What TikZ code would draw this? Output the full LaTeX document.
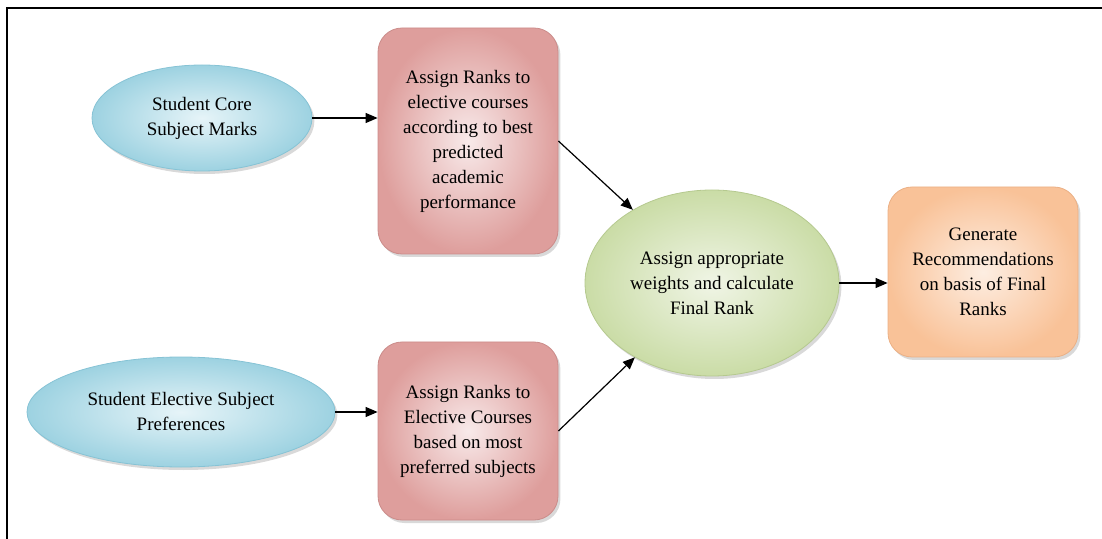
\documentclass[tikz,border=0pt]{standalone}
\usepackage{fontspec}
\setmainfont{Liberation Serif}
\usetikzlibrary{shapes,arrows.meta,positioning,shadows}
\definecolor{aquaout}{HTML}{9DD2E1}
\definecolor{aquain}{HTML}{E6F4F8}
\definecolor{aquaedge}{HTML}{86C3D5}
\definecolor{roseout}{HTML}{DE9E9C}
\definecolor{rosein}{HTML}{F8EAEA}
\definecolor{roseedge}{HTML}{CB8C8A}
\definecolor{sageout}{HTML}{CADCA6}
\definecolor{sagein}{HTML}{F0F5E6}
\definecolor{sageedge}{HTML}{B5C98F}
\definecolor{peachout}{HTML}{F9C298}
\definecolor{peachin}{HTML}{FDEEE2}
\definecolor{peachedge}{HTML}{EBB085}
\tikzstyle{source} = [ellipse, draw=aquaedge, line width=0.4pt, inner color=aquain, outer color=aquaout, inner sep=0pt, align=center, drop shadow={shadow xshift=1.2pt, shadow yshift=-1.5pt, opacity=0.3}, font=\fontsize{9.5}{12.5}\selectfont]
\tikzstyle{rankbox} = [rectangle, rounded corners=12pt, draw=roseedge, line width=0.4pt, inner color=rosein, outer color=roseout, inner sep=0pt, align=center, drop shadow={shadow xshift=1.2pt, shadow yshift=-1.5pt, opacity=0.3}, font=\fontsize{9.5}{12.5}\selectfont]
\tikzstyle{merge} = [ellipse, draw=sageedge, line width=0.4pt, inner color=sagein, outer color=sageout, inner sep=0pt, align=center, drop shadow={shadow xshift=1.2pt, shadow yshift=-1.5pt, opacity=0.3}, font=\fontsize{9.5}{12.5}\selectfont]
\tikzstyle{result} = [rectangle, rounded corners=12pt, draw=peachedge, line width=0.4pt, inner color=peachin, outer color=peachout, inner sep=0pt, align=center, drop shadow={shadow xshift=1.2pt, shadow yshift=-1.5pt, opacity=0.3}, font=\fontsize{9.5}{12.5}\selectfont]
\tikzstyle{line} = [draw, line width=0.6pt, -{Triangle[length=6pt,width=5pt]}]

\begin{document}
\begin{tikzpicture}[x=0.5pt, y=-0.5pt]
	\useasboundingbox (0,0) rectangle (1102,539);
	%Frame
	\draw[line width=0.8pt] (7,539) -- (7,8) -- (1102,8);

	%Place nodes
	\node [source, minimum width=110pt, minimum height=53pt] (CoreMarks) at (202,118) {Student Core\\Subject Marks};
	\node [rankbox, right of=CoreMarks, node distance=133pt, yshift=-11.5pt, minimum width=90pt, minimum height=113pt] (CoreRanks) {Assign Ranks to\\elective courses\\according to best\\predicted\\academic\\performance};
	\node [rankbox, below of=CoreRanks, node distance=145pt, minimum width=90pt, minimum height=89pt] (PrefRanks) {Assign Ranks to\\Elective Courses\\based on most\\preferred subjects};
	\node [source, left of=PrefRanks, node distance=143.5pt, yshift=9.5pt, minimum width=154pt, minimum height=55pt] (ElectivePrefs) {Student Elective Subject\\Preferences};
	\node [merge, right of=CoreRanks, node distance=122pt, yshift=-71pt, minimum width=127pt, minimum height=93pt] (FinalRank) {Assign appropriate\\weights and calculate\\Final Rank};
	\node [result, right of=FinalRank, node distance=135.5pt, yshift=5.5pt, minimum width=95pt, minimum height=85pt] (Recommend) {Generate\\Recommendations\\on basis of Final\\Ranks};

	\path [line] (CoreMarks.east) -- (CoreMarks.east -| CoreRanks.west);
	\path [line] (ElectivePrefs.east) -- (ElectivePrefs.east -| PrefRanks.west);
	\path [line] (CoreRanks.east) -- (FinalRank);
	\path [line] (PrefRanks.east) -- (FinalRank);
	\path [line] (FinalRank.east) -- (FinalRank.east -| Recommend.west);

\end{tikzpicture}
\end{document}
